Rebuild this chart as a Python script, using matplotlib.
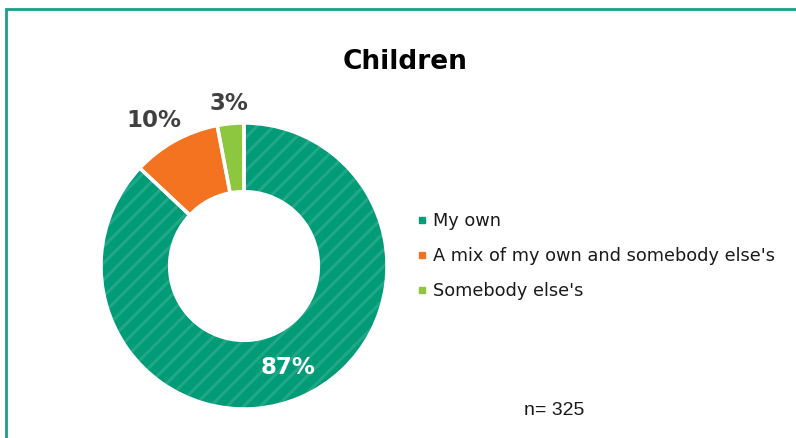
import matplotlib.pyplot as plt
from matplotlib.patches import Rectangle
from matplotlib.lines import Line2D
import numpy as np

# data
categories = ["My own", "A mix of my own and somebody else's", "Somebody else's"]
values = [87, 10, 3]
pct_labels = ["87%", "10%", "3%"]
colors = ['#009B77', '#F37321', '#8DC63F']
title = "Children"
n_text = "n= 325"

fig = plt.figure(figsize=(7.96, 4.38), dpi=100)
ax = fig.add_axes([0.1269, 0.0662, 0.3593, 0.653])
plt.rcParams['hatch.linewidth'] = 2.2

# hatched base
wedges, _ = ax.pie(values, colors=colors, startangle=90, counterclock=False,
                   radius=1, wedgeprops=dict(width=0.48, linewidth=0))
wedges[0].set_hatch('//')
wedges[0].set_edgecolor('#22A887')
# white separators on top
ax.pie(values, colors=['none'] * 3, startangle=90, counterclock=False,
       radius=1, wedgeprops=dict(width=0.48, linewidth=2.5, edgecolor='white'))
ax.set_xlim(-1, 1)
ax.set_ylim(-1, 1)
ax.set_aspect('equal')

# percent labels
dists = [0.77, 1.20, 1.14]
shifts = [0, 3, 0]
lcols = ['white', '#404040', '#404040']
for w, lab, d, s, c in zip(wedges, pct_labels, dists, shifts, lcols):
    ang = np.deg2rad((w.theta1 + w.theta2) / 2 + s)
    ax.text(d * np.cos(ang), d * np.sin(ang), lab, ha='center', va='center',
            fontsize=16.5, fontweight='bold', color=c, clip_on=False)

fig.text(0.509, 0.858, title, ha='center', va='center', fontsize=19,
         fontweight='bold', color='black')

handles = [Line2D([0], [0], marker='s', linestyle='none', markersize=5,
                  markerfacecolor=c, markeredgecolor=c) for c in colors]
fig.legend(handles, categories, loc='center left', bbox_to_anchor=(0.505, 0.415),
           frameon=False, fontsize=12.8, handlelength=0.5, handletextpad=0.35,
           labelspacing=0.95, labelcolor='#1a1a1a')

fig.text(0.696, 0.063, n_text, ha='center', va='center', fontsize=14,
         family='Liberation Sans', color='#1a1a1a')

# frame
fig.patches.append(Rectangle((5.5 / 796, -0.1), 1.2, (438 - 8.5) / 438 + 0.1,
                             transform=fig.transFigure, fill=False,
                             edgecolor='#16A085', linewidth=2))

plt.savefig('out.png', dpi=100)
